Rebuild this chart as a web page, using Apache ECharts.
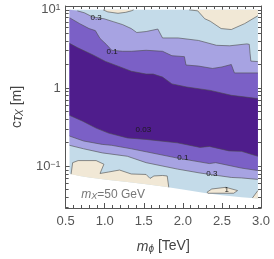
<!DOCTYPE html>
<html><head><meta charset="utf-8">
<script src="https://cdn.jsdelivr.net/npm/echarts@6/dist/echarts.min.js"></script>
<style>html,body{margin:0;padding:0;background:#fff}#c{width:274px;height:259px}</style>
</head><body><div id="c"></div>
<script>
// ---------- data (m_phi in TeV, c*tau in m) ----------
const xRange = [0.5, 3.0];
const yRange = [0.0292, 11.2];
const xTickValues = [0.5, 1.0, 1.5, 2.0, 2.5, 3.0];
const xTickLabels = ['0.5', '1.0', '1.5', '2.0', '2.5', '3.0'];
const yTickValues = [0.1, 1, 10];
const yMinorTickValues = [0.03,0.04,0.05,0.06,0.07,0.08,0.09,0.2,0.3,0.4,0.5,0.6,0.7,0.8,0.9,2,3,4,5,6,7,8,9];

const domainX = [0.55, 2.96];
const domainTopY = 10;
const domainLower = [[0.55,0.0807],[0.68,0.0750],[0.80,0.0718],[1.05,0.0668],[1.29,0.0630],[1.53,0.0586],[1.77,0.0545],[2.02,0.0500],[2.26,0.0458],[2.50,0.0426],[2.75,0.0402],[2.96,0.0385]];

// contour level 1 (beige regions)
const c1TopLeft = [[0.98,10],[1.04,9.42],[1.17,9.03],[1.27,9.30],[1.34,9.71],[1.37,10]];
const c1TopRight = [[2.08,10],[2.19,9.71],[2.28,7.70],[2.35,7.16],[2.49,5.76],[2.62,5.60],[2.79,6.66],[2.96,8.40]];
const c1Lower = [[0.57,0.079],[0.59,0.111],[0.66,0.118],[0.89,0.118],[0.99,0.106],[0.94,0.0807],[1.05,0.0843],[1.19,0.0893],[1.34,0.0795],[1.53,0.0784],[1.58,0.0698],[1.63,0.0750],[1.74,0.0761],[1.80,0.0750],[1.82,0.0537]];
const c1Island = [[2.31,0.0465],[2.37,0.0511],[2.55,0.0537],[2.70,0.0488],[2.65,0.0451],[2.32,0.0451],[2.31,0.0465]];
const c1Corner = [[2.89,0.0392],[2.96,0.0488]];

// contour level 0.3
const c03Upper = [[0.55,10],[0.65,9.71],[0.74,9.17],[0.84,8.16],[0.99,7.70],[1.11,7.06],[1.23,6.47],[1.34,5.76],[1.41,5.13],[1.53,5.28],[1.68,5.68],[1.74,4.37],[1.94,4.37],[2.20,4.06],[2.43,3.52],[2.60,3.47],[2.82,3.67],[2.85,3.62],[2.86,2.79],[2.87,2.21],[2.96,2.18]];
const c03Lower = [[0.55,0.185],[0.73,0.167],[0.97,0.148],[1.29,0.134],[1.53,0.111],[1.93,0.0919],[2.22,0.0818],[2.62,0.0718],[2.75,0.0708],[2.96,0.0678]];

// contour level 0.1
const c01Upper = [[0.55,7.93],[0.68,6.66],[0.80,5.76],[0.88,5.43],[0.94,4.31],[1.02,3.62],[1.09,3.04],[1.23,2.95],[1.34,2.95],[1.53,3.04],[1.74,2.95],[1.86,2.59],[2.02,2.52],[2.04,1.97],[2.20,1.91],[2.38,1.78],[2.50,1.86],[2.62,2.00],[2.66,1.56],[2.96,1.56]];
const c01Lower = [[0.55,0.243],[0.73,0.210],[0.97,0.190],[1.09,0.185],[1.34,0.167],[1.53,0.153],[1.93,0.127],[2.34,0.108],[2.42,0.111],[2.75,0.0946],[2.96,0.0880]];

// contour level 0.03
const c003Upper = [[0.55,3.73],[0.65,3.29],[0.85,2.65],[1.01,2.19],[1.18,1.89],[1.34,1.64],[1.53,1.51],[1.62,1.51],[1.74,1.38],[1.86,1.13],[2.05,1.03],[2.35,0.933],[2.62,0.807],[2.96,0.733]];
const c003Lower = [[0.55,0.447],[0.72,0.376],[0.89,0.307],[1.05,0.265],[1.29,0.230],[1.53,0.220],[1.93,0.199],[2.22,0.174],[2.34,0.179],[2.59,0.157],[2.75,0.155],[2.96,0.134]];

// contour labels
const contourLabelText = ['0.3', '0.1', '0.03', '0.1', '0.3', '1'];
const contourLabelPos = [[0.89,7.93],[1.095,2.91],[1.495,0.294],[2.0,0.128],[2.37,0.0795],[2.56,0.0492]];
const noteText = '{i|m}{s|X}=50 GeV';
const notePos = [1.107, 0.0438];

// ---------- styles ----------
const colBeige = '#f1e8d6', colBlue = '#c4dbe9', colLav = '#a7a3e2', colMed = '#7b60c6', colDark = '#4f1d8c';
const FONT = '"Liberation Sans", Arial, sans-serif';
const AX = '#555';

function rev(a){ return a.slice().reverse(); }
function between(a, lo, hi){ return a.filter(p => p[0] > lo && p[0] < hi); }

const domainPoly = [[domainX[0], domainTopY], [domainX[1], domainTopY]].concat(rev(domainLower));
const layers = [
  {kind:'fill', color:colBlue, pts:domainPoly},
  {kind:'fill', color:colBeige, pts:c1TopLeft},
  {kind:'fill', color:colBeige, pts:c1TopRight.concat([[domainX[1], domainTopY]])},
  {kind:'fill', color:colBeige, pts:c1Lower.concat(rev(between(domainLower, c1Lower[0][0], c1Lower[c1Lower.length-1][0])))},
  {kind:'fill', color:colBeige, pts:c1Island},
  {kind:'fill', color:colBeige, pts:c1Corner.concat([[domainX[1], domainLower[domainLower.length-1][1]]])},
  {kind:'fill', color:colLav, pts:c03Upper.concat(rev(c03Lower))},
  {kind:'fill', color:colMed, pts:c01Upper.concat(rev(c01Lower))},
  {kind:'fill', color:colDark, pts:c003Upper.concat(rev(c003Lower))},
  {kind:'line', pts:c1TopLeft},
  {kind:'line', pts:c1TopRight},
  {kind:'line', pts:c1Lower},
  {kind:'line', pts:c1Island},
  {kind:'line', pts:c1Corner},
  {kind:'line', pts:c03Upper.slice(1)},
  {kind:'line', pts:c03Lower},
  {kind:'line', pts:c01Upper},
  {kind:'line', pts:c01Lower},
  {kind:'line', pts:c003Upper},
  {kind:'line', pts:c003Lower}
];
contourLabelText.forEach((t, i) => layers.push({kind:'label', text:t, pts:[contourLabelPos[i]]}));
layers.push({kind:'note', text:noteText, pts:[notePos]});

const L = Math.log10;
function renderItem(params, api){
  const l = layers[params.dataIndex];
  const pts = l.pts.map(p => api.coord([p[0], L(p[1])]));
  if (l.kind === 'fill') return {type:'polygon', shape:{points:pts}, style:{fill:l.color, stroke:null}};
  if (l.kind === 'line') return {type:'polyline', shape:{points:pts}, style:{fill:null, stroke:'#4a4a4a', lineWidth:0.8, opacity:0.75}};
  if (l.kind === 'label') return {type:'text', x:pts[0][0], y:pts[0][1], style:{text:l.text, fill:'#1a1a1a', font:'8px ' + FONT, align:'center', verticalAlign:'middle'}};
  return {type:'text', x:pts[0][0], y:pts[0][1], style:{text:l.text, align:'center', verticalAlign:'middle',
    rich:{i:{fontStyle:'italic', fontSize:12, fontFamily:FONT, fill:'#777', lineHeight:13, verticalAlign:'bottom'},
          s:{fontStyle:'italic', fontSize:9, fontFamily:FONT, fill:'#777', lineHeight:9, padding:[5,0,0,0], verticalAlign:'bottom'}},
    fontSize:12, fontFamily:FONT, fill:'#777'}};
}

const yMin = L(yRange[0]), yMax = L(yRange[1]);
function xAxisCfg(pos, labels){
  return {type:'value', min:xRange[0], max:xRange[1], interval:0.5, position:pos,
    axisLine:{show:true, onZero:false, lineStyle:{color:AX, width:1}},
    axisTick:{show:true, inside:true, length:5, lineStyle:{color:AX}},
    minorTick:{show:true, splitNumber:5, length:3, lineStyle:{color:AX}},
    splitLine:{show:false}, minorSplitLine:{show:false},
    axisLabel:{show:labels, color:'#555', fontSize:13, fontFamily:FONT, margin:7,
      formatter: v => xTickLabels[xTickValues.findIndex(t => Math.abs(t - v) < 1e-6)] || ''},
    name: labels ? '{i|m}{s|ϕ} [TeV]' : '', nameLocation:'middle', nameGap:30,
    nameTextStyle:{color:'#444', fontSize:14, fontFamily:FONT,
      rich:{i:{fontStyle:'italic', fontSize:14, fontFamily:FONT, color:'#444', lineHeight:16, verticalAlign:'bottom'},
            s:{fontStyle:'italic', fontSize:10, fontFamily:FONT, color:'#444', lineHeight:10, padding:[7,0,0,0], verticalAlign:'bottom'}}}};
}
function yAxisCfg(pos, major, line, labels){
  const vals = major ? yTickValues.map(L) : yMinorTickValues.map(L);
  return {type:'value', min:yMin, max:yMax, position:pos,
    axisLine:{show:line, onZero:false, lineStyle:{color:AX, width:1}},
    axisTick:{show:true, inside:true, length: major ? 5 : 3, customValues: vals, lineStyle:{color:AX}},
    minorTick:{show:false}, splitLine:{show:false},
    axisLabel:{show:labels, customValues: vals, margin:5, color:'#555', fontFamily:FONT,
      formatter: v => { const e = Math.round(v); return e === 0 ? '{b|1}' : '{b|10}{s|' + (e < 0 ? '−' : '') + Math.abs(e) + '}'; },
      rich:{b:{fontSize:13, fontFamily:FONT, color:'#555', lineHeight:13, verticalAlign:'bottom'},
            s:{fontSize:9, fontFamily:FONT, color:'#555', lineHeight:9, padding:[0,0,7,0], verticalAlign:'top'}}},
    name: labels ? 'c{i|τ}{s|X} [m]' : '', nameLocation:'middle', nameGap:39,
    nameTextStyle:{color:'#444', fontSize:14, fontFamily:FONT,
      rich:{i:{fontStyle:'italic', fontSize:14, fontFamily:FONT, color:'#444', lineHeight:16, verticalAlign:'bottom'},
            s:{fontStyle:'italic', fontSize:10, fontFamily:FONT, color:'#444', lineHeight:10, padding:[7,0,0,0], verticalAlign:'bottom'}}}};
}

const chart = echarts.init(document.getElementById('c'), null, {renderer:'canvas'});
chart.setOption({
  animation:false,
  grid:{left:55, right:13, top:6, bottom:48, containLabel:false},
  xAxis:[xAxisCfg('bottom', true), xAxisCfg('top', false)],
  yAxis:[yAxisCfg('left', true, true, true), yAxisCfg('left', false, false, false),
         yAxisCfg('right', true, true, false), yAxisCfg('right', false, false, false)],
  series:[{type:'custom', xAxisIndex:0, yAxisIndex:0, silent:true, clip:false,
    renderItem: renderItem, data: layers.map(() => [1, 0])}]
});
</script></body></html>
